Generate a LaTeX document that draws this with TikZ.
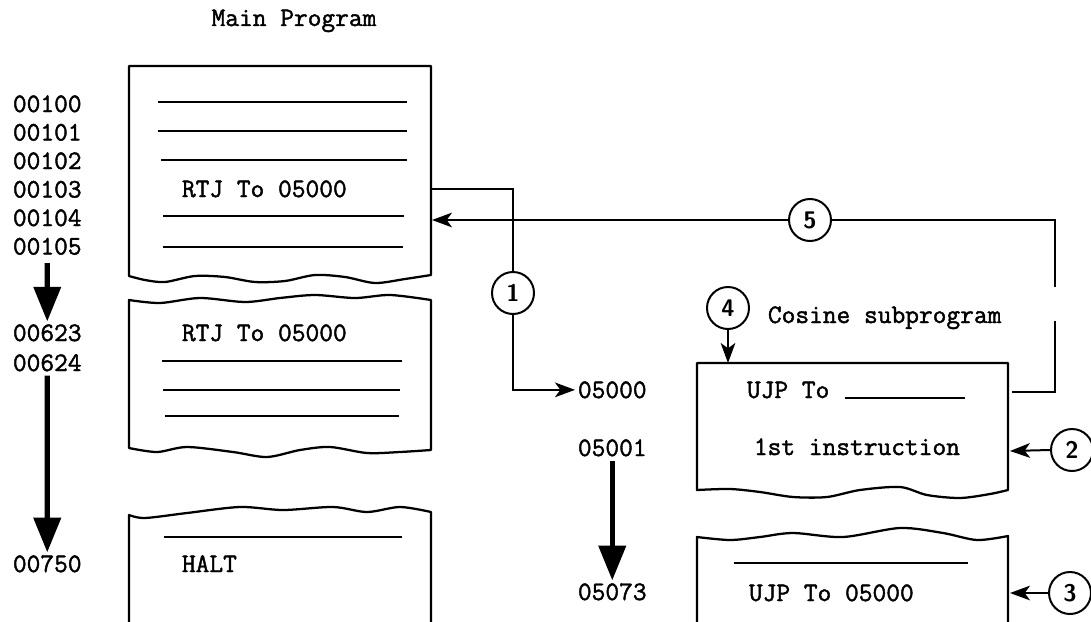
\documentclass[tikz,border=0pt]{standalone}
\usepackage{fontspec}
\newfontfamily\typew{Latin Modern Mono}[FakeBold=1.6]
\usetikzlibrary{arrows.meta}
\begin{document}
\begin{tikzpicture}[x=0.75pt,y=-0.75pt,
  txt/.style={font=\typew\fontsize{20}{24}\selectfont, inner sep=2pt, anchor=base west},
  boxline/.style={line width=1.7pt, line join=round},
  rule/.style={line width=1.3pt},
  conn/.style={line width=1.5pt},
  arr/.style={conn, -{Stealth[length=15pt,width=11pt,inset=4pt]}},
  bigarr/.style={-{Triangle[length=26pt,width=20pt]}, line width=3.8pt},
  num/.style={circle, draw, line width=1.5pt, minimum size=31.5pt, inner sep=0pt, fill=white,
    font=\sffamily\bfseries\fontsize{18}{20}\selectfont}]
\useasboundingbox (0,0) rectangle (1091,621);

% title
\node[font=\typew\fontsize{20}{24}\selectfont, anchor=base] (title) at (294,26) {Main Program};

% left addresses
\node[txt] (a100) at (10,112) {00100};
\node[txt] (a101) at (10,140.5) {00101};
\node[txt] (a102) at (10,169) {00102};
\node[txt] (a103) at (10,197.5) {00103};
\node[txt] (a104) at (10,226) {00104};
\node[txt] (a105) at (10,254.5) {00105};
\node[txt] (a623) at (10,341) {00623};
\node[txt] (a624) at (10,371) {00624};
\node[txt] (a750) at (10,572) {00750};

\draw[bigarr, shorten <=4pt] (a105.south) -- (a623.north);
\draw[bigarr, shorten <=1pt] (a624.south) -- (a750.north);

% main program boxes
\draw[boxline] (129,66) -- (431,66) -- plot[smooth] coordinates {(431,275) (405,279) (375,283) (345,277) (315,275) (285,281) (255,282) (225,277) (195,276) (165,282) (145,280) (129,276)} -- cycle;
\draw[rule] (158,102) -- (407,102);
\draw[rule] (158,131) -- (407,131);
\draw[rule] (161,160) -- (407,160);
\draw[rule] (163,216) -- (404,216);
\draw[rule] (163,247) -- (403,247);
\node[txt] (rtj1) at (179,197) {RTJ To 05000};

\draw[boxline] plot[smooth] coordinates {(129,300) (160,303) (200,298) (245,302) (280,298) (315,295) (355,298) (390,295) (431,300)} -- plot[smooth] coordinates {(431,450) (400,452) (367,453) (330,447) (300,450) (267,457) (233,452) (187,447) (157,452) (129,448)} -- cycle;
\node[txt] (rtj2) at (179,341) {RTJ To 05000};
\draw[rule] (162,361) -- (402,361);
\draw[rule] (163,390) -- (400,390);
\draw[rule] (165,416) -- (399,416);

\draw[boxline] (129,625) -- plot[smooth] coordinates {(129,515) (145,518) (187,513) (240,507) (283,510) (333,507) (367,512) (400,507) (431,512)} -- (431,625);
\draw[rule] (164,537) -- (402,537);
\node[txt] (halt) at (179,572) {HALT};

% subprogram addresses
\node[txt] (s5000) at (575,398) {05000};
\node[txt] (s5001) at (575,456) {05001};
\node[txt] (s5073) at (575,600) {05073};
\draw[bigarr, shorten <=1pt] (s5001.south) -- (s5073.north);

% cosine subprogram boxes
\node[txt] (cos) at (765,323) {Cosine subprogram};
\draw[boxline] (697,363) -- (1008,363) -- plot[smooth] coordinates {(1008,490) (990,494) (960,498) (927,495) (900,487) (860,490) (827,497) (793,497) (760,492) (730,489) (697,490)} -- cycle;
\node[txt] (ujp1) at (744,398) {UJP To};
\draw[rule] (845,398) -- (965,398);
\node[txt] (first) at (751,455) {1st instruction};

\draw[boxline] (697,625) -- plot[smooth] coordinates {(697,537) (730,540) (760,537) (793,533) (843,537) (900,528) (943,533) (977,540) (1008,536)} -- (1008,625);
\draw[rule] (734,563) -- (968,563);
\node[txt] (ujp2) at (746,601) {UJP To 05000};

% connection points
\coordinate (rtjout) at (431,189);
\coordinate (ret) at (432,217);
\coordinate (box4top) at (728,363);
\coordinate (ujpout) at (1012,392);
\coordinate (gapbot) at (1055,321);
\coordinate (gaptop) at (1055,287);
\coordinate (in2) at (1010,451);
\coordinate (in3) at (1010,593);

% circled numbers
\node[num] (c1) at (513,293) {1};
\node[num] (c2) at (1072,450) {2};
\node[num] (c3) at (1070,593) {3};
\node[num] (c4) at (728,308) {4};
\node[num] (c5) at (810,220) {5};

% connectors
\draw[conn] (rtjout) -| (c1.north);
\draw[arr] (c1.south) |- (s5000.west);
\draw[conn] (ujpout) -| (gapbot);
\draw[conn] (gaptop) |- (c5.east);
\draw[arr] (c5.west) -- (c5.west -| ret);
\draw[arr] (c4.south) -- (box4top);
\draw[arr] (c2.west) -- (in2);
\draw[arr] (c3.west) -- (in3);
\end{tikzpicture}
\end{document}
